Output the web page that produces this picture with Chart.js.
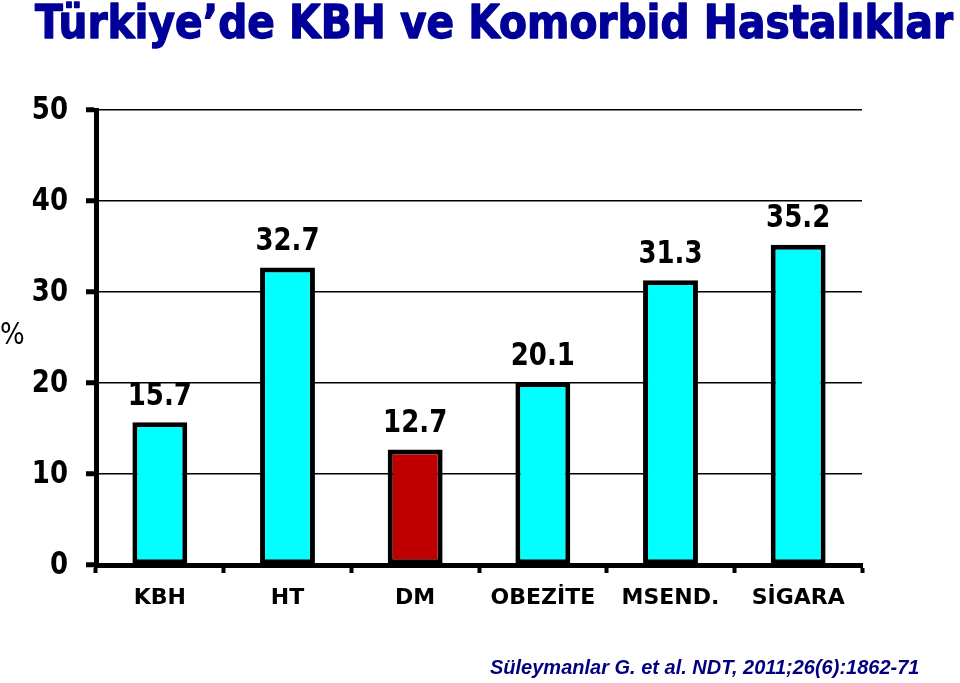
<!DOCTYPE html>
<html>
<head>
<meta charset="utf-8">
<script src="https://cdn.jsdelivr.net/npm/chart.js@4"></script>
<style>
  html, body { margin: 0; padding: 0; background: #fff; }
  #wrap { position: relative; width: 960px; height: 683px; }
  #cite { position: absolute; left: 490px; top: 655px; font: italic bold 20px "Liberation Sans", Arial, sans-serif; color: #000080; white-space: nowrap; transform: scaleY(1.05); transform-origin: left top; }
</style>
</head>
<body>
<div id="wrap">
  <canvas id="myChart" width="960" height="683"></canvas>
  <div id="cite">Süleymanlar G. et al. NDT, 2011;26(6):1862-71</div>
</div>
<script>
var titleText = 'Türkiye’de KBH ve Komorbid Hastalıklar';
var categories = ['KBH', 'HT', 'DM', 'OBEZİTE', 'MSEND.', 'SİGARA'];
var values = [15.7, 32.7, 12.7, 20.1, 31.3, 35.2];
var barColors = ['#00FFFF', '#00FFFF', '#C00000', '#00FFFF', '#00FFFF', '#00FFFF'];
var yTicks = [0, 10, 20, 30, 40, 50];

// the slide text is a bit stretched vertically, so draw it by hand
var extras = {
  id: 'extras',
  afterDraw: function (chart) {
    var c = chart.ctx;
    c.save();
    // title, squeezed to the slide width
    c.font = 'bold 44px "DejaVu Sans Condensed", sans-serif';
    var w = c.measureText(titleText).width;
    c.translate(35, 38);
    c.scale(918 / w, 1.05);
    c.fillStyle = '#000099';
    c.strokeStyle = '#000099';
    c.lineWidth = 1.2;
    c.lineJoin = 'round';
    c.fillText(titleText, 0, 0);
    c.strokeText(titleText, 0, 0);
    c.restore();

    // y tick labels
    var ys = chart.scales.y;
    c.save();
    c.fillStyle = '#000';
    c.font = 'bold 26px "DejaVu Sans", Verdana, sans-serif';
    c.textAlign = 'right';
    c.textBaseline = 'middle';
    yTicks.forEach(function (v) {
      c.save();
      c.translate(68, ys.getPixelForValue(v) + 1);
      c.scale(1, 1.25);
      c.fillText(String(v), 0, 0);
      c.restore();
    });

    // axis unit
    c.save();
    c.font = '26px "DejaVu Sans", Verdana, sans-serif';
    c.textAlign = 'left';
    c.translate(0, 336);
    c.scale(1, 1.15);
    c.fillText('%', 0, 0);
    c.restore();

    // value labels
    c.textAlign = 'center';
    c.textBaseline = 'bottom';
    var meta = chart.getDatasetMeta(0);
    meta.data.forEach(function (bar, i) {
      c.save();
      c.translate(bar.x, bar.y - 10);
      c.scale(1, 1.2);
      c.fillText(String(values[i]), 0, 0);
      c.restore();
    });
    c.restore();
  }
};

var ctx = document.getElementById('myChart').getContext('2d');
var chart = new Chart(ctx, {
  type: 'bar',
  data: {
    labels: categories,
    datasets: [{
      data: values,
      backgroundColor: barColors,
      borderColor: '#000',
      borderWidth: 5,
      borderSkipped: false,
      barPercentage: 0.43,
      categoryPercentage: 1
    }]
  },
  options: {
    responsive: false,
    animation: false,
    layout: { padding: { top: 110, right: 98, left: 0, bottom: 0 } },
    plugins: {
      legend: { display: false },
      tooltip: { enabled: false }
    },
    scales: {
      x: {
        afterFit: function (s) { s.height = 118; },
        border: { color: '#000', width: 5 },
        grid: { drawOnChartArea: false, color: '#000', tickLength: 8, tickWidth: 4 },
        ticks: {
          color: '#000',
          padding: 12,
          maxRotation: 0,
          font: { family: '"DejaVu Sans", Verdana, sans-serif', size: 22, weight: 'bold' }
        }
      },
      y: {
        min: 0,
        max: 50,
        afterFit: function (s) { s.width = 96; },
        afterBuildTicks: function (s) { s.ticks = yTicks.map(function (v) { return { value: v }; }); },
        border: { color: '#000', width: 5 },
        grid: { color: '#000', lineWidth: 1.5, tickLength: 10, tickWidth: 5 },
        ticks: { display: false }
      }
    }
  },
  plugins: [extras]
});
</script>
</body>
</html>
